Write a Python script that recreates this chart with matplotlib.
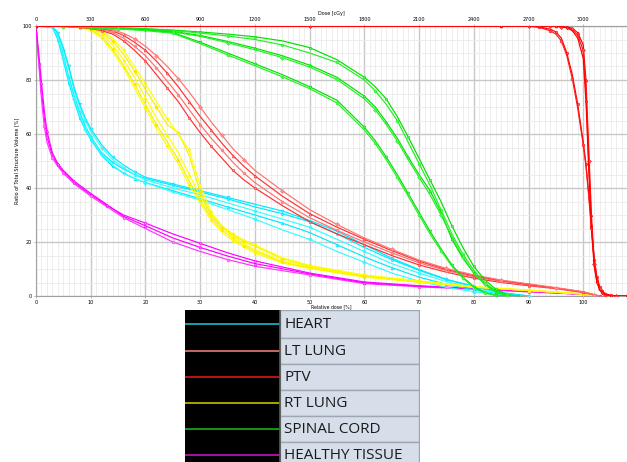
import matplotlib.pyplot as plt
from matplotlib import ticker
from matplotlib.patches import Rectangle

# relative dose grids [%] and volume curves [%] for each structure (one curve per plan)
tissue_dose = [0, 0.5, 1, 1.5, 2, 3, 4, 5, 7, 10, 13, 16, 20, 25, 30, 35, 40, 50, 60, 70, 80, 90, 100, 103]
tissue_vols = [
  [100, 88, 76, 66, 59, 52, 48.5, 46, 42, 37.5, 33.5, 30, 27, 23, 19.5, 16, 13, 8.5, 5.2, 3.8, 2.8, 1.8, 0.7, 0],
  [100, 86, 73, 63, 57, 51, 48, 45.5, 41.5, 37, 33, 29, 25, 20, 16.5, 13.5, 11, 7.8, 4.6, 3.4, 2.5, 1.5, 0.6, 0],
  [100, 90, 79, 69, 61, 53, 49, 46.5, 42.5, 38, 33.8, 29.5, 26, 21.5, 18, 14.8, 12, 8.2, 4.9, 3.6, 2.7, 1.7, 0.6, 0],
]

heart_dose = [0, 3, 4, 5, 6, 7, 8, 9, 10, 12, 14, 16, 18, 20, 25, 30, 35, 40, 45, 50, 55, 60, 65, 70, 75, 80, 85, 90]
heart_vols = [
  [100, 99.5, 96, 89, 81, 74, 68, 63, 59, 53, 49.5, 47, 45, 43.5, 41, 38.5, 36, 33, 30.5, 27.5, 23, 18, 13.5, 9.5, 6, 3.5, 1.2, 0],
  [100, 99.8, 97, 91, 84, 76, 70, 65, 61, 55, 50.5, 47.5, 45, 43, 40, 37.5, 34.5, 31.5, 28.5, 25.5, 21, 16.5, 12, 8.5, 5.3, 3, 1, 0],
  [100, 99.5, 95, 87, 79, 72, 66, 61.5, 58, 52, 48, 45.5, 43.5, 42, 39, 36, 33, 30, 27, 23.5, 19, 14.5, 10.5, 7, 4.3, 2.3, 0.7, 0],
  [100, 99.7, 96, 88, 80, 73, 67, 62, 58.5, 52.5, 48.5, 45.5, 43.5, 42, 38.5, 35.5, 32, 28.5, 24.5, 21, 16.5, 12.5, 8.5, 5.5, 3.2, 1.6, 0.5, 0],
  [100, 99.9, 97.5, 92, 85, 77, 71, 66, 62, 56, 51.5, 48.5, 46, 44, 41.5, 39, 36.5, 34, 31.5, 28, 24, 19, 14, 9.8, 6.2, 3.6, 1.3, 0],
]

rtlung_dose = [0, 5, 8, 10, 12, 14, 16, 18, 20, 22, 24, 26, 28, 30, 32, 34, 36, 38, 40, 45, 50, 60, 70, 80, 90, 100, 102]
rtlung_vols = [
  [100, 99.8, 99.3, 98.3, 95.5, 90.5, 84.5, 77, 69.5, 62, 55.5, 49, 41, 34.5, 28, 23.5, 20.5, 18, 16, 12.2, 10.2, 7, 5.1, 3.3, 2, 0.7, 0],
  [100, 99.8, 99.4, 98.6, 96.2, 91.5, 85.5, 78.5, 71, 63.5, 57, 50.5, 42.5, 35.5, 29, 24.5, 21.2, 18.7, 16.6, 12.6, 10.4, 7.2, 5.2, 3.3, 2, 0.7, 0],
  [100, 99.9, 99.5, 98.9, 97, 93, 87.5, 81, 73.5, 66, 59.5, 53, 45, 37, 30, 25.5, 22, 19.4, 17.2, 13, 10.7, 7.4, 5.3, 3.4, 2.1, 0.7, 0],
  [100, 99.9, 99.6, 99.1, 97.8, 94.5, 89.5, 83.5, 76.5, 70, 63.5, 60.5, 52, 38.5, 30, 25.5, 22.5, 20.2, 18.4, 13.8, 11, 7.6, 5.5, 3.4, 2.1, 0.8, 0],
  [100, 99.9, 99.7, 99.3, 98.3, 95.5, 91, 85, 78.5, 72, 65.5, 60, 54, 41, 31, 26, 23, 20.7, 18.9, 14.2, 11.3, 7.8, 5.6, 3.5, 2.2, 0.8, 0],
]

ltlung_dose = [0, 5, 8, 10, 12, 14, 16, 18, 20, 22, 24, 26, 28, 30, 32, 34, 36, 38, 40, 45, 50, 55, 60, 65, 70, 75, 80, 85, 90, 95, 100, 102, 103]
ltlung_vols = [
  [100, 99.9, 99.5, 99, 98.3, 97, 94.5, 91, 87, 82, 77, 72, 66, 60.5, 55.5, 51, 46.5, 43, 40, 33.5, 27.5, 23, 19, 15, 11.5, 8.8, 6.6, 5, 3.8, 2.7, 1.3, 0.4, 0],
  [100, 99.9, 99.6, 99.2, 98.6, 97.6, 95.5, 92.5, 89, 84.5, 79.5, 74.5, 69, 63.5, 58.5, 54, 49.5, 45.5, 42, 35, 29, 24.3, 20, 16, 12.3, 9.4, 7.1, 5.4, 4.1, 2.9, 1.4, 0.4, 0],
  [100, 99.9, 99.7, 99.4, 99, 98.2, 96.5, 94, 91, 87, 82.5, 77.5, 72, 66.5, 61.5, 56.5, 52, 48, 44.5, 37, 30.5, 25.5, 21, 16.8, 12.9, 9.8, 7.5, 5.7, 4.3, 3, 1.5, 0.5, 0],
  [100, 99.9, 99.8, 99.6, 99.2, 98.6, 97.3, 95.3, 92.5, 89, 85, 80.5, 75.5, 70, 64.5, 59.5, 54.5, 50.5, 46.5, 39, 32, 26.5, 21.5, 17.3, 13.3, 10.2, 7.8, 5.9, 4.5, 3.1, 1.6, 0.5, 0],
]

cord_dose = [0, 5, 10, 15, 20, 25, 30, 35, 40, 45, 50, 55, 60, 62, 64, 66, 68, 70, 72, 74, 76, 78, 80, 82, 84, 86, 88]
cord_vols = [
  [100, 99.9, 99.6, 99.3, 99, 98.5, 97.8, 97, 96, 94.5, 92, 87.5, 81, 77.5, 73, 66.5, 59, 51, 43, 35, 26, 18, 11, 6, 2.5, 0.5, 0],
  [100, 99.9, 99.6, 99.3, 98.9, 98.3, 97.4, 96.3, 95, 93, 90, 86.5, 80, 76, 71, 65, 57, 49, 41, 32, 23, 15.5, 9.5, 5, 1.8, 0.3, 0],
  [100, 99.9, 99.5, 99.2, 98.8, 98, 96.5, 94.3, 91.8, 89, 85.5, 81, 74, 70, 64.5, 58.5, 51.5, 45, 39, 31, 21, 14, 8.5, 4.5, 1.5, 0.2, 0],
  [100, 99.9, 99.5, 99.1, 98.7, 97.8, 96.2, 93.8, 91.2, 88.3, 84.8, 80.2, 73, 69, 63.5, 57.5, 50.5, 44, 37.5, 30, 22, 14.5, 8.5, 4.3, 1.4, 0.2, 0],
  [100, 99.8, 99.4, 99, 98.5, 97.6, 94, 90, 86, 82, 77.5, 72.5, 62.5, 57.5, 51.5, 45, 38, 31, 24, 17.5, 11.5, 7, 3.5, 1.3, 0.3, 0, 0],
  [100, 99.8, 99.3, 98.9, 98.3, 97.3, 93.5, 89.3, 85.3, 81.2, 76.8, 71.5, 61.5, 56.5, 50.5, 44, 37, 30, 23, 16.8, 11, 6.6, 3.2, 1.1, 0.2, 0, 0],
]

ptv_dose = [0, 50, 85, 90, 92, 94, 95, 96, 97, 98, 99, 100, 100.5, 101, 101.5, 102, 102.5, 103, 103.5, 104, 105, 106, 108]
ptv_vols = [
  [100, 100, 100, 100, 99.7, 98.8, 97.8, 95.5, 90, 82, 71, 57, 49, 38, 26, 14, 7, 3.5, 1.8, 0.9, 0.2, 0, 0],
  [100, 100, 100, 99.9, 99.5, 98.2, 97, 94.5, 89, 80.5, 69.5, 56, 48, 37, 25, 13.5, 6.8, 3.3, 1.7, 0.8, 0.2, 0, 0],
  [100, 100, 100, 100, 100, 100, 99.9, 99.8, 99.6, 99.2, 97.5, 93, 80, 55, 30, 13, 6, 2.8, 1.3, 0.6, 0.1, 0, 0],
  [100, 100, 100, 100, 100, 100, 99.9, 99.8, 99.5, 98.8, 96.5, 91, 76, 50, 27, 12, 5.5, 2.5, 1.2, 0.5, 0.1, 0, 0],
  [100, 100, 100, 100, 100, 100, 99.9, 99.7, 99.3, 98.3, 95.5, 88, 72, 47, 25, 11, 5, 2.3, 1.1, 0.5, 0.1, 0, 0],
]

legend_names = ['HEART', 'LT LUNG', 'PTV', 'RT LUNG', 'SPINAL CORD', 'HEALTHY TISSUE']
legend_colors = ['#1fb8c8', '#e87c6c', '#d81818', '#c8c000', '#18b018', '#c018c0']

fig = plt.figure(figsize=(6.27, 4.62), dpi=100)
ax = fig.add_axes([36/627, 1 - 296/462, 591/627, 270/462])

markers = ['s', 'o', '^', 'D', 'v', 'o']


def draw(dose, vols, colors, mcolor):
  for i, v in enumerate(vols):
    c = colors[i % len(colors)]
    ax.plot(dose, v, color=c, lw=0.85, marker=markers[i % len(markers)],
            ms=2.0, markevery=(i % 2, 2), mfc=mcolor, mec=c, mew=0.4, zorder=3)


draw(tissue_dose, tissue_vols, ['#ff00ff', '#ff33ff'], '#ff88ff')
draw(heart_dose, heart_vols, ['#00e8ff', '#33ffff'], '#66ddff')
draw(rtlung_dose, rtlung_vols, ['#ffff00', '#f8f000'], '#ffe000')
draw(ltlung_dose, ltlung_vols, ['#ff3030', '#ff7070'], '#ff9090')
draw(cord_dose, cord_vols, ['#00e000', '#22f022'], '#66ee66')
draw(ptv_dose, ptv_vols, ['#ff0000', '#ff1818'], '#ff5050')

ax.set_xlim(0, 108)
ax.set_ylim(0, 100)
ax.xaxis.set_major_locator(ticker.FixedLocator(range(0, 101, 10)))
ax.xaxis.set_minor_locator(ticker.MultipleLocator(1))
ax.yaxis.set_major_locator(ticker.MultipleLocator(20))
ax.yaxis.set_minor_locator(ticker.MultipleLocator(5))
ax.grid(which='major', color='#c8c8c8', lw=1.0)
ax.grid(which='minor', color='#ebebeb', lw=0.6)
ax.set_axisbelow(True)
ax.tick_params(which='both', labelsize=3.5, length=1.5, width=0.5,
               color='#999999', pad=1.5)
ax.tick_params(which='minor', length=0)
for s in ['left', 'bottom', 'top']:
  ax.spines[s].set_color('#a0a0a0')
  ax.spines[s].set_linewidth(0.8)
ax.spines['right'].set_visible(False)
ax.set_xlabel('Relative dose [%]', fontsize=3.3)
ax.xaxis.set_label_coords(0.5, -0.031)
ax.set_ylabel('Ratio of Total Structure Volume [%]', fontsize=3.5, labelpad=2)

sec = ax.secondary_xaxis('top', functions=(lambda x: x * 30, lambda x: x / 30))
sec.xaxis.set_major_locator(ticker.FixedLocator(range(0, 3001, 300)))
sec.tick_params(labelsize=3.5, length=1.5, width=0.5, color='#999999', pad=1.5)
sec.spines['top'].set_color('#a0a0a0')
sec.set_xlabel('Dose [cGy]', fontsize=3.5, labelpad=1)

# legend panel drawn in pixel coordinates
lg = fig.add_axes([185/627, 0, (420 - 185)/627, (462 - 310)/462])
lg.set_xlim(185, 420)
lg.set_ylim(462, 310)
lg.axis('off')
lg.add_patch(Rectangle((185, 310), 95, 152, facecolor='black', edgecolor='none'))
row_tops = [310, 338, 364, 390, 416, 442]
for i, name in enumerate(legend_names):
  top = row_tops[i]
  bot = row_tops[i + 1] if i + 1 < len(row_tops) else 468
  lg.add_patch(Rectangle((280, top), 139, bot - top, facecolor='#d6dee9',
                         edgecolor='#9ea6b2', lw=1.0))
  yc = top + (bot - top) / 2 if i + 1 < len(row_tops) else 455
  lg.plot([185, 280], [yc, yc], color=legend_colors[i], lw=1.2)
  lg.text(284, yc + 0.5, name, fontsize=11, family='Open Sans', va='center',
          ha='left', color='#1a1a1a')
lg.plot([280, 280], [310, 462], color='#555555', lw=1.2)

fig.savefig('out.png', dpi=100)
